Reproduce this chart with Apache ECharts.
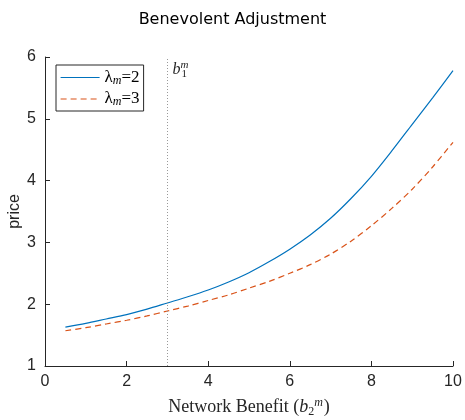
<!DOCTYPE html>
<html>
<head>
<meta charset="utf-8">
<script src="https://cdn.jsdelivr.net/npm/echarts@6/dist/echarts.min.js"></script>
<style>
  html, body { margin: 0; padding: 0; background: #fff; }
  #main { width: 465px; height: 420px; }
</style>
</head>
<body>
<div id="main"></div>
<script>
// 数据：读图估计
var benefit = [0.5, 1, 1.5, 2, 2.5, 3, 3.5, 4, 4.5, 5, 5.5, 6, 6.5, 7, 7.5, 8, 8.5, 9, 9.5, 10];
var priceL2 = [1.63, 1.69, 1.76, 1.83, 1.92, 2.02, 2.12, 2.23, 2.36, 2.51, 2.69, 2.89, 3.12, 3.39, 3.71, 4.07, 4.48, 4.91, 5.34, 5.78];
var priceL3 = [1.57, 1.62, 1.68, 1.74, 1.81, 1.89, 1.97, 2.06, 2.15, 2.26, 2.37, 2.50, 2.64, 2.81, 3.02, 3.27, 3.55, 3.86, 4.22, 4.62];
var xTicks = [0, 2, 4, 6, 8, 10];
var yTicks = [1, 2, 3, 4, 5, 6];
var markX = 3;

function pairs(xs, ys) {
  return xs.map(function (x, i) { return [x, ys[i]]; });
}

var myChart = echarts.init(document.getElementById('main'));

var axisColor = '#262626';
var blue = '#0072BD';
var red = '#D95319';
var serif = '"Liberation Serif", "DejaVu Serif", serif';
var sans = '"Liberation Sans", Arial, sans-serif';

var option = {
  animation: false,
  title: {
    text: 'Benevolent Adjustment',
    left: 'center',
    top: 7,
    textStyle: { fontFamily: '"DejaVu Sans", sans-serif', fontSize: 16, fontWeight: 'normal', color: '#000' }
  },
  grid: { left: 45, right: 12, top: 57, bottom: 54, outerBoundsMode: 'none' },
  legend: {
    orient: 'vertical',
    left: 56,
    top: 65,
    padding: [4, 4, 3, 4],
    itemGap: 4,
    itemWidth: 39,
    itemHeight: 14,
    borderColor: axisColor,
    borderWidth: 1,
    backgroundColor: '#fff',
    itemStyle: { opacity: 0 },
    data: [
      { name: 'l2', lineStyle: { color: blue, width: 1.2 } },
      { name: 'l3', lineStyle: { color: red, width: 1.2, type: [6, 4] } }
    ],
    formatter: function (name) {
      return name === 'l2' ? '{a|λ}{s|m}{a|=2}' : '{a|λ}{s|m}{a|=3}';
    },
    textStyle: {
      rich: {
        a: { fontFamily: serif, fontSize: 17, color: '#000', lineHeight: 18 },
        s: { fontFamily: serif, fontSize: 12, fontStyle: 'italic', color: '#000', verticalAlign: 'bottom', padding: [6, 0, 0, 0] }
      }
    }
  },
  xAxis: {
    type: 'value',
    min: 0,
    max: 10,
    interval: 2,
    name: '{a|Network Benefit (}{b|b}{s|2}{p|m}{a|)}',
    nameLocation: 'middle',
    nameGap: 31,
    nameMoveOverlap: false,
    nameTextStyle: {
      rich: {
        a: { fontFamily: serif, fontSize: 18, color: '#262626' },
        b: { fontFamily: serif, fontSize: 18, fontStyle: 'italic', color: '#262626' },
        s: { fontFamily: serif, fontSize: 12, color: '#262626', padding: [9, 0, 0, 0] },
        p: { fontFamily: serif, fontSize: 12, fontStyle: 'italic', color: '#262626', padding: [0, 1, 9, 0] }
      }
    },
    axisLine: { lineStyle: { color: axisColor, width: 1 } },
    axisTick: { inside: true, length: 5, lineStyle: { color: axisColor } },
    axisLabel: { fontFamily: sans, fontSize: 16, color: axisColor, margin: 8 },
    splitLine: { show: false }
  },
  yAxis: {
    type: 'value',
    min: 1,
    max: 6,
    interval: 1,
    name: 'price',
    nameLocation: 'middle',
    nameGap: 22,
    nameMoveOverlap: false,
    nameTextStyle: { fontFamily: sans, fontSize: 16, color: axisColor },
    axisLine: { show: true, lineStyle: { color: axisColor, width: 1 } },
    axisTick: { show: true, inside: true, length: 5, lineStyle: { color: axisColor } },
    axisLabel: { fontFamily: sans, fontSize: 16, color: axisColor, margin: 9 },
    splitLine: { show: false }
  },
  series: [
    {
      name: 'l2',
      type: 'line',
      data: pairs(benefit, priceL2),
      smooth: 0.3,
      symbol: 'none',
      lineStyle: { color: blue, width: 1.2 },
      itemStyle: { color: blue },
      markLine: {
        silent: true,
        symbol: 'none',
        label: { show: false },
        lineStyle: { color: '#999', type: [1, 2], width: 1 },
        data: [{ xAxis: markX }]
      },
      markPoint: {
        symbol: 'circle',
        symbolSize: 0,
        silent: true,
        data: [
          {
            coord: [markX, 6],
            label: {
              show: true,
              position: [5, 3],
              formatter: '{b|b}{p|m}',
              rich: {
                b: { fontFamily: serif, fontSize: 16, fontStyle: 'italic', color: '#262626' },
                p: { fontFamily: serif, fontSize: 11, fontStyle: 'italic', color: '#262626', padding: [0, 0, 8, 0] }
              }
            }
          },
          {
            coord: [markX, 6],
            label: {
              show: true,
              position: [14, 12],
              formatter: '1',
              fontFamily: serif,
              fontSize: 11,
              color: '#262626'
            }
          }
        ]
      }
    },
    {
      name: 'l3',
      type: 'line',
      data: pairs(benefit, priceL3),
      smooth: 0.3,
      symbol: 'none',
      lineStyle: { color: red, width: 1.2, type: [6, 4] },
      itemStyle: { color: red }
    }
  ]
};
myChart.setOption(option);
</script>
</body>
</html>
